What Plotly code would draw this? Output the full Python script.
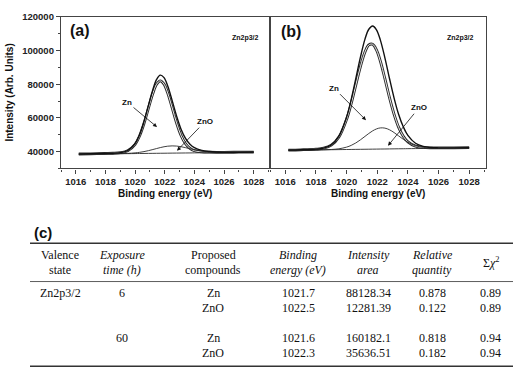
import plotly.graph_objects as go

W, H = 513, 376

# ---- spectra data ----
energy = [1016.2, 1017, 1018, 1018.5, 1019, 1019.5, 1020, 1020.3, 1020.6, 1020.9, 1021.2, 1021.45,
          1021.7, 1021.95, 1022.2, 1022.5, 1022.8, 1023.1, 1023.4, 1023.7, 1024.0, 1024.5, 1025,
          1025.5, 1026, 1027, 1028]

a_envelope = [38520, 38650, 38852, 38980, 39342, 40593, 44705, 49920, 57758, 67424, 76890, 82829,
              85345, 83880, 78878, 70250, 61038, 53263, 47806, 44366, 42336, 40717, 40005,
              39693, 39592, 39602, 39680]
a_zn = [38520, 38650, 38850, 38970, 39300, 40450, 44300, 49230, 56660, 65790, 74620, 79995,
        81970, 80045, 74720, 65950, 56880, 49510, 44640, 41870, 40500, 39770, 39600,
        39550, 39550, 39600, 39680]
a_zno = [38420, 38500, 38602, 38660, 38742, 38893, 39205, 39520, 39958, 40524, 41190, 41779,
         42345, 42830, 43178, 43350, 43238, 42863, 42306, 41666, 41036, 40197, 39705,
         39493, 39442, 39502, 39600]
a_base = [38420, 38500, 38600, 38650, 38700, 38750, 38800, 38830, 38860, 38890, 38920, 38945,
          38970, 38995, 39020, 39050, 39080, 39110, 39140, 39170, 39200, 39250, 39300,
          39350, 39400, 39500, 39600]

b_envelope = [40875, 41025, 41406, 42004, 43895, 49132, 60516, 70851, 83293, 95919, 106772, 112630,
              114563, 112302, 106313, 95655, 83383, 71760, 61967, 54669, 49578, 44897, 43035,
              42371, 42194, 42196, 42280]
b_zn = [40875, 41025, 41400, 41972, 43755, 48638, 59100, 68438, 79475, 90312, 99130, 103281,
        103702, 100324, 93765, 83262, 72020, 62088, 54325, 49062, 45760, 43192, 42415,
        42188, 42150, 42195, 42280]
b_zno = [40725, 40825, 40956, 41044, 41215, 41632, 42616, 43651, 45093, 46919, 48992, 50730,
         52273, 53422, 54023, 53905, 52913, 51260, 49267, 47269, 45518, 43467, 42445,
         42071, 41994, 42076, 42200]
b_base = [40725, 40825, 40950, 41012, 41075, 41138, 41200, 41238, 41275, 41312, 41350, 41381,
          41412, 41444, 41475, 41512, 41550, 41588, 41625, 41662, 41700, 41762, 41825,
          41888, 41950, 42075, 42200]

y_ticks = [40000, 60000, 80000, 100000, 120000]
x_ticks = [1016, 1018, 1020, 1022, 1024, 1026, 1028]

# ---- table data ----
header_top = ["Valence", "<i>Exposure</i>", "Proposed", "<i>Binding</i>", "<i>Intensity</i>", "<i>Relative</i>"]
header_bot = ["state", "<i>time (h)</i>", "compounds", "<i>energy (eV)</i>", "<i>area</i>", "<i>quantity</i>"]
header_chi = "Σ<i>χ</i><sup>2</sup>"
col_valence = ["Zn2p3/2", "", "", ""]
col_exposure = ["6", "", "60", ""]
col_compound = ["Zn", "ZnO", "Zn", "ZnO"]
col_binding = ["1021.7", "1022.5", "1021.6", "1022.3"]
col_area = ["88128.34", "12281.39", "160182.1", "35636.51"]
col_relq = ["0.878", "0.122", "0.818", "0.182"]
col_chi = ["0.89", "0.89", "0.94", "0.94"]


def px(x):
    return x / W


def py(y):
    return 1 - y / H


fig = go.Figure()
LC = "#2a2a2a"
for xa, ya, env, zn, zno, base in [("x", "y", a_envelope, a_zn, a_zno, a_base),
                                   ("x2", "y2", b_envelope, b_zn, b_zno, b_base)]:
    fig.add_trace(go.Scatter(x=energy, y=zn, mode="lines", xaxis=xa, yaxis=ya,
                             line=dict(color=LC, width=2.8, shape="spline"), hoverinfo="skip"))
    fig.add_trace(go.Scatter(x=energy, y=zn, mode="lines", xaxis=xa, yaxis=ya,
                             line=dict(color="white", width=0.9, shape="spline"), hoverinfo="skip"))
    fig.add_trace(go.Scatter(x=energy, y=base, mode="lines", xaxis=xa, yaxis=ya,
                             line=dict(color=LC, width=0.9, shape="spline")))
    fig.add_trace(go.Scatter(x=energy, y=zno, mode="lines", xaxis=xa, yaxis=ya,
                             line=dict(color=LC, width=0.9, shape="spline")))
    fig.add_trace(go.Scatter(x=energy, y=env, mode="lines", xaxis=xa, yaxis=ya,
                             line=dict(color="#111", width=1.4, shape="spline")))

tickfont = dict(family="Liberation Sans", size=9.5, color="#222", weight="bold")
xcommon = dict(range=[1015.0, 1029.1], tickvals=x_ticks, tickformat="d", showgrid=False, zeroline=False,
               showline=True, linecolor="#444", linewidth=1.3, mirror=True, ticks="outside",
               ticklen=4, tickwidth=1, tickcolor="#444", tickfont=tickfont,
               minor=dict(ticks="outside", dtick=1, ticklen=2, tickcolor="#444"))
ycommon = dict(range=[30000, 120000], showgrid=False, zeroline=False, showline=True,
               linecolor="#444", linewidth=1.3, mirror=True)

fig.update_layout(
    width=W, height=H, margin=dict(l=0, r=0, t=0, b=0),
    paper_bgcolor="white", plot_bgcolor="white", showlegend=False,
    xaxis=dict(domain=[px(61), px(270)], anchor="y", **xcommon),
    xaxis2=dict(domain=[px(270), px(486)], anchor="y2", **xcommon),
    yaxis=dict(domain=[py(165), py(11)], anchor="x", tickvals=y_ticks, tickformat="d",
               ticks="outside", ticklen=4, tickwidth=1, tickcolor="#444", tickfont=tickfont,
               minor=dict(ticks="outside", dtick=10000, ticklen=2, tickcolor="#444"), **ycommon),
    yaxis2=dict(domain=[py(165), py(11)], anchor="x2", showticklabels=False, ticks="", **ycommon),
)

ann = []
bold = dict(family="Liberation Sans", color="#111", weight="bold")


def label(text, x, y, size, **kw):
    ann.append(dict(text=text, x=px(x), y=py(y), xref="paper", yref="paper", showarrow=False,
                    xanchor="center", yanchor="middle", font=dict(size=size, **bold), **kw))


label("(a)", 80, 25, 16)
label("(b)", 291, 26, 16)
label("Zn2p3/2", 245, 33, 7)
label("Zn2p3/2", 460, 33, 7)
label("Binding energy (eV)", 165, 191, 10)
label("Binding energy (eV)", 378, 191, 10)
label("Intensity (Arb. Units)", 10, 88, 10, textangle=-90)
label("(c)", 43, 230, 15)


def arrow(text, hx, hy, tx, ty):
    # text is centred at the tail point; arrow runs from the text to the head
    ann.append(dict(text=text, x=px(hx), y=py(hy), xref="paper", yref="paper", showarrow=True,
                    ax=tx - hx, ay=ty - hy, arrowhead=2, arrowsize=1, arrowwidth=0.8,
                    arrowcolor="#111", standoff=0, startstandoff=0,
                    font=dict(size=8, **bold)))


arrow("Zn", 157, 123, 127, 98)
arrow("ZnO", 177, 147, 205, 118)
arrow("Zn", 366, 116, 334, 84)
arrow("ZnO", 388, 142, 419, 104)

# table
cols_x = [60, 122, 213, 298, 368, 432]
serif = dict(family="Liberation Serif", size=12, color="#111")


def cell(text, x, y):
    ann.append(dict(text=text, x=px(x), y=py(y), xref="paper", yref="paper", showarrow=False,
                    xanchor="center", yanchor="middle", font=serif))


for cx, t1, t2 in zip(cols_x, header_top, header_bot):
    cell(t1, cx, 253)
    cell(t2, cx, 268)
cell(header_chi, 491, 261)

row_y = [292, 307, 337, 353]
for cx, col in zip(cols_x + [490], [col_valence, col_exposure, col_compound, col_binding,
                                    col_area, col_relq, col_chi]):
    for ry, val in zip(row_y, col):
        if val:
            cell(val, cx, ry)

fig.update_layout(annotations=ann)

shapes = []
for yy, w in [(241, 1.5), (280, 0.8), (366, 1.5)]:
    shapes.append(dict(type="line", xref="paper", yref="paper", x0=px(30), x1=px(513),
                       y0=py(yy), y1=py(yy), line=dict(color="#333", width=w)))
fig.update_layout(shapes=shapes)

fig.write_html("out.html", config={"displayModeBar": False},
               post_script="document.body.style.margin='0';document.body.style.overflow='hidden';")
